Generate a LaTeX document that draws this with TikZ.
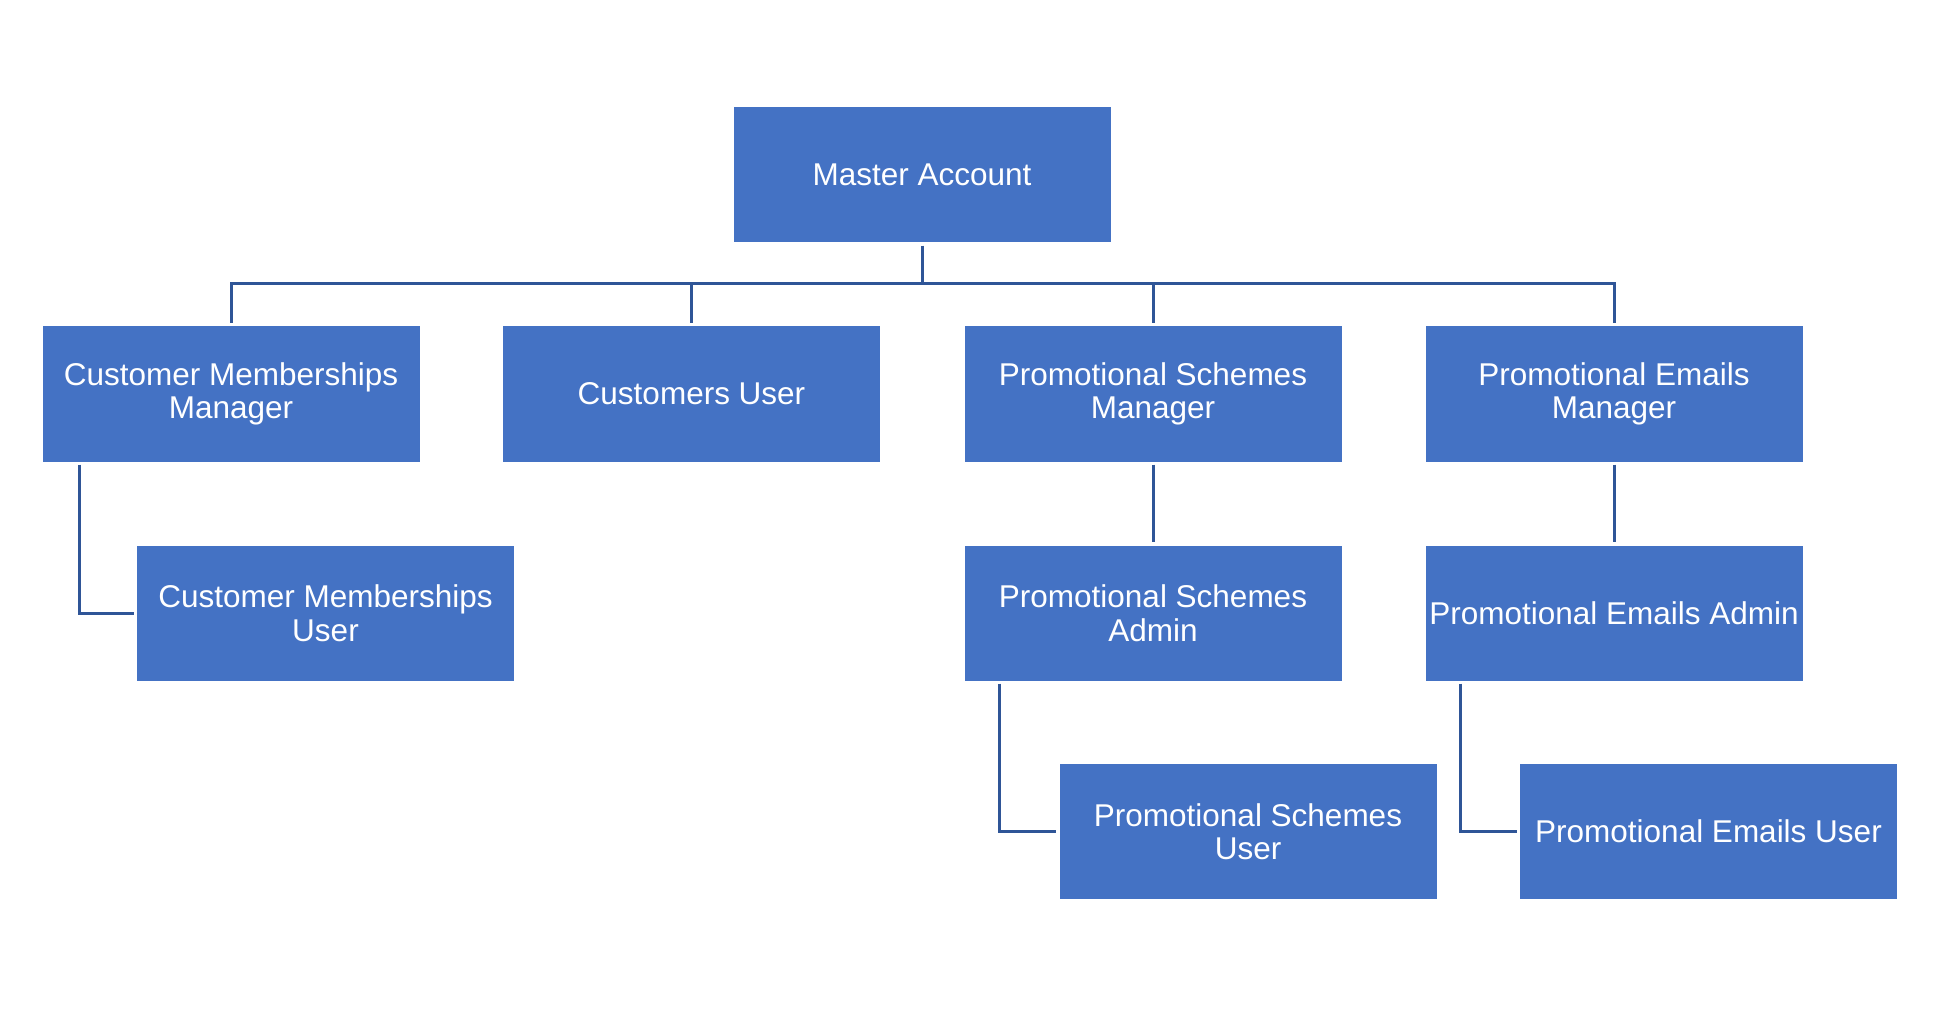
\documentclass[tikz,border=0pt]{standalone}
\usepackage{fontspec}
\setmainfont{Liberation Sans}
\definecolor{boxblue}{HTML}{4472C4}
\definecolor{lineblue}{HTML}{2F5597}
\begin{document}
\begin{tikzpicture}[x=1pt,y=-1pt,
  box/.style={draw=none,fill=boxblue,text=white,minimum width=377pt,minimum height=135pt,inner sep=0pt,align=center,font=\fontsize{31.5}{33.5}\selectfont},
  conn/.style={draw=lineblue,line width=3pt,shorten <=3pt,shorten >=3pt}]
\useasboundingbox[fill=white] (0,0) rectangle (1939,1032);
\node[box] (master) at (922,175) {Master Account};
\node[box] (cmm) at (231,394) {Customer Memberships\\Manager};
\node[box] (cu) at (691.5,394) {Customers User};
\node[box] (psm) at (1153,394) {Promotional Schemes\\Manager};
\node[box] (pem) at (1614,394) {Promotional Emails\\Manager};
\node[box] (cmu) at (325.5,613) {Customer Memberships\\User};
\node[box] (psa) at (1153,613) {Promotional Schemes\\Admin};
\node[box] (pea) at (1614,613) {Promotional Emails Admin};
\node[box] (psu) at (1248,831.5) {Promotional Schemes\\User};
\node[box] (peu) at (1708.5,831.5) {Promotional Emails User};
\coordinate (bus) at (922,284);
\draw[lineblue,line width=3pt,shorten <=3pt] (master.south) -- (bus);
\foreach \c in {cmm,cu,psm,pem}{
  \draw[lineblue,line width=3pt,shorten >=3pt] (bus) -| (\c.north);
}
\draw[conn] (psm.south) -- (psa.north);
\draw[conn] (pem.south) -- (pea.north);
\draw[conn] ([xshift=37pt]cmm.south west) |- (cmu.west);
\draw[conn] ([xshift=35pt]psa.south west) |- (psu.west);
\draw[conn] ([xshift=35pt]pea.south west) |- (peu.west);
\end{tikzpicture}
\end{document}
